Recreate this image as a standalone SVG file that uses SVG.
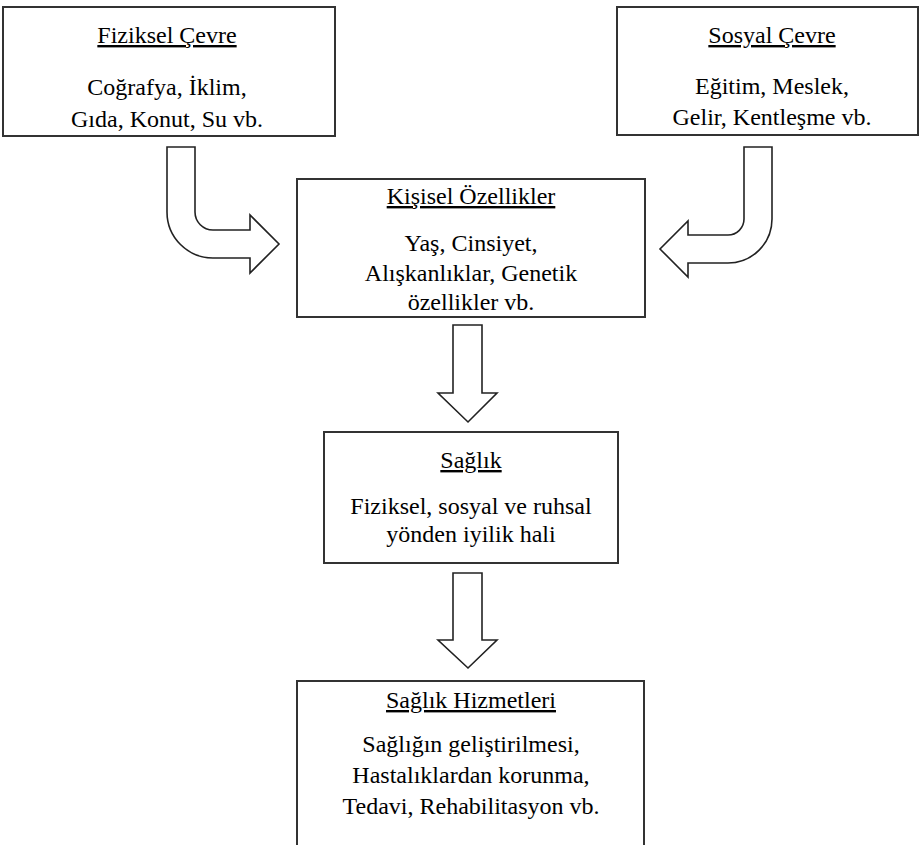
<svg xmlns="http://www.w3.org/2000/svg" width="923" height="845" viewBox="0 0 923 845">
<style>
.box{fill:#fff;stroke:#333;stroke-width:2}
.arr{fill:#fff;stroke:#222;stroke-width:1.6;stroke-linejoin:miter}
text{font-family:"Liberation Serif","Times New Roman",serif;font-size:24px;fill:#000;text-anchor:middle}
.h{text-decoration:underline}
</style>
<rect width="923" height="845" fill="#fff"/>
<g id="connectors">
<path class="arr" d="M167,147 H195 V212 A18,18 0 0 0 213,230 H250 V215 L279,244 L250,273 V258 H213 A46,46 0 0 1 167,212 Z"/>
<path class="arr" d="M744,147 H772 V219 A44,44 0 0 1 728,263 H688 V277 L660,249 L688,221 V235 H728 A16,16 0 0 0 744,219 Z"/>
<path class="arr" d="M453,325 H482 V393 H497 L468,422 L438,393 H453 Z"/>
<path class="arr" d="M453,573 H482 V640 H497 L468,668 L438,640 H453 Z"/>
</g>
<g id="fiziksel-cevre">
<rect class="box" x="3" y="7" width="332" height="129"/>
<text class="h" x="167" y="43">Fiziksel Çevre</text>
<text x="167" y="95">Coğrafya, İklim,</text>
<text x="167" y="127">Gıda, Konut, Su vb.</text>
</g>
<g id="sosyal-cevre">
<rect class="box" x="617" y="7" width="301" height="128"/>
<text class="h" x="772" y="43">Sosyal Çevre</text>
<text x="772" y="94">Eğitim, Meslek,</text>
<text x="772" y="125">Gelir, Kentleşme vb.</text>
</g>
<g id="kisisel-ozellikler">
<rect class="box" x="297" y="179" width="348" height="138"/>
<text class="h" x="471" y="204">Kişisel Özellikler</text>
<text x="471" y="251">Yaş, Cinsiyet,</text>
<text x="471" y="281">Alışkanlıklar, Genetik</text>
<text x="471" y="310">özellikler vb.</text>
</g>
<g id="saglik">
<rect class="box" x="324" y="432" width="294" height="131"/>
<text class="h" x="471" y="468">Sağlık</text>
<text x="471" y="514">Fiziksel, sosyal ve ruhsal</text>
<text x="471" y="542">yönden iyilik hali</text>
</g>
<g id="saglik-hizmetleri">
<path class="box" d="M297,850 V681 H644 V850"/>
<text class="h" x="471" y="708">Sağlık Hizmetleri</text>
<text x="471" y="752">Sağlığın geliştirilmesi,</text>
<text x="471" y="783">Hastalıklardan korunma,</text>
<text x="471" y="814">Tedavi, Rehabilitasyon vb.</text>
</g>
</svg>
